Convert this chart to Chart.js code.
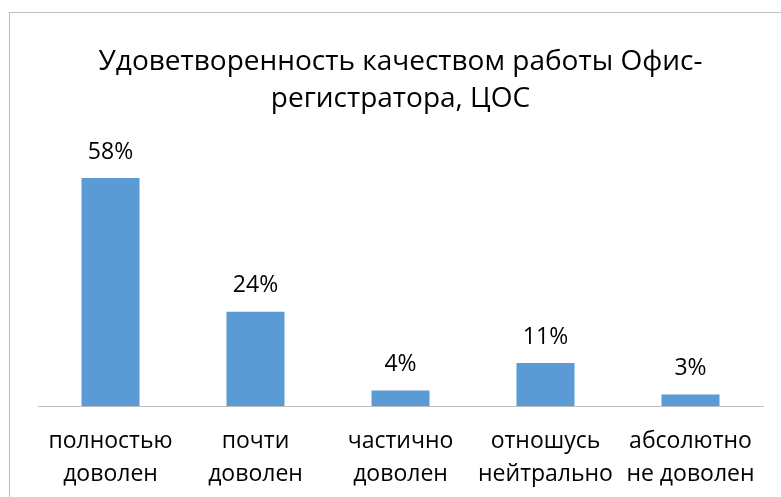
<!DOCTYPE html>
<html>
<head>
<meta charset="utf-8">
<script src="https://cdn.jsdelivr.net/npm/chart.js@4/dist/chart.umd.min.js"></script>
<style>
  html, body { margin: 0; padding: 0; background: #fff; overflow: hidden; }
  #frame {
    position: absolute; left: 9px; top: 12px; width: 800px; height: 520px;
    border: 1px solid #bfbfbf; box-sizing: border-box;
  }
  #wrap { position: absolute; left: 0; top: 0; width: 781px; height: 517px; }
</style>
</head>
<body>
<div id="frame"></div>
<div id="wrap"><canvas id="chart"></canvas></div>
<script>
const titleLines = ["Удоветворенность качеством работы Офис-", "регистратора, ЦОС"];
const categories = [
  ["полностью", "доволен"],
  ["почти", "доволен"],
  ["частично", "доволен"],
  ["отношусь", "нейтрально"],
  ["абсолютно", "не доволен"]
];
const values = [58, 24, 4, 11, 3];
const yMax = 70;

const FONT = "'Open Sans', sans-serif";

// --------- Value labels above bars ---------
const barLabels = {
  id: "barLabels",
  afterDatasetsDraw(chart) {
    const ctx = chart.ctx;
    const meta = chart.getDatasetMeta(0);
    ctx.save();
    ctx.font = "23px " + FONT;
    ctx.fillStyle = "#000";
    ctx.textAlign = "center";
    ctx.textBaseline = "middle";
    meta.data.forEach((bar, i) => {
      ctx.fillText(values[i] + "%", bar.x, bar.y - 26);
    });
    ctx.restore();
  }
};

const chart = new Chart(document.getElementById("chart"), {
  type: "bar",
  data: {
    labels: categories,
    datasets: [{
      data: values,
      backgroundColor: "#5b9bd5",
      borderWidth: 0,
      categoryPercentage: 1,
      barPercentage: 0.4
    }]
  },
  options: {
    responsive: true,
    maintainAspectRatio: false,
    animation: false,
    layout: { padding: { left: 38, right: 18, top: 0, bottom: 7 } },
    plugins: {
      legend: { display: false },
      tooltip: { enabled: false },
      title: {
        display: true,
        text: titleLines,
        color: "#000",
        font: { family: FONT, size: 28, weight: "normal", lineHeight: 1.32 },
        padding: { top: 44, bottom: 13 }
      }
    },
    scales: {
      x: {
        grid: { display: false, drawTicks: false },
        border: { display: true, color: "#bfbfbf", width: 1 },
        ticks: {
          color: "#000",
          padding: 19,
          maxRotation: 0,
          autoSkip: false,
          font: { family: FONT, size: 23, lineHeight: 1.43 }
        }
      },
      y: {
        display: false,
        min: 0,
        max: yMax
      }
    }
  },
  plugins: [barLabels]
});
</script>
</body>
</html>
